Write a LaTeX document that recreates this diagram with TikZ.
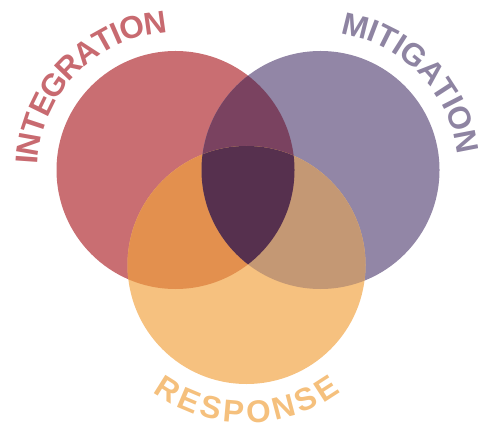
\documentclass[tikz,border=0pt]{standalone}
\usepackage{fontspec}
\setmainfont{Liberation Sans}
\usetikzlibrary{decorations.text,calc}
\definecolor{cRed}{HTML}{C96E72}
\definecolor{cPur}{HTML}{9286A6}
\definecolor{cOra}{HTML}{F6C17F}
\definecolor{cRP}{HTML}{7A4260}
\definecolor{cRO}{HTML}{E3904E}
\definecolor{cPO}{HTML}{C49874}
\definecolor{cRPO}{HTML}{56304E}
\definecolor{tRed}{HTML}{C86A70}
\definecolor{tPur}{HTML}{8E84A2}
\definecolor{tOra}{HTML}{F5C07D}
\newcommand\lblfont{\bfseries\fontsize{31.5}{31.5}\selectfont}
\tikzset{
  curvedlabel/.style n args={2}{decorate, decoration={text along path, text={|\lblfont|#1}, text color=#2, text align=fit to path, raise=-11.3pt}}
}
\begin{document}
\begin{tikzpicture}[x=1pt,y=1pt]
\useasboundingbox (0,0) rectangle (478,423);
\coordinate (R) at (175.5,253);
\coordinate (P) at (320.5,253);
\coordinate (O) at (246.5,158);
\def\rad{119}
\fill[cRed] (R) circle[radius=\rad];
\fill[cPur] (P) circle[radius=\rad];
\fill[cOra] (O) circle[radius=\rad];
\begin{scope}\clip (R) circle[radius=\rad]; \fill[cRP] (P) circle[radius=\rad];\end{scope}
\begin{scope}\clip (R) circle[radius=\rad]; \fill[cRO] (O) circle[radius=\rad];\end{scope}
\begin{scope}\clip (P) circle[radius=\rad]; \fill[cPO] (O) circle[radius=\rad];\end{scope}
\begin{scope}\clip (R) circle[radius=\rad]; \clip (P) circle[radius=\rad]; \fill[cRPO] (O) circle[radius=\rad];\end{scope}
\path[curvedlabel={INTEGRATION}{tRed}] ($(R)+(177.7:149)$) arc[start angle=177.7, end angle=93.6, radius=149];
\path[curvedlabel={MITIGATION}{tPur}] ($(P)+(81.3:149)$) arc[start angle=81.3, end angle=6.6, radius=149];
\path[curvedlabel={RESPONSE}{tOra}] ($(O)+(-126.6:146.5)$) arc[start angle=-126.6, end angle=-53.1, radius=146.5];
\end{tikzpicture}
\end{document}
